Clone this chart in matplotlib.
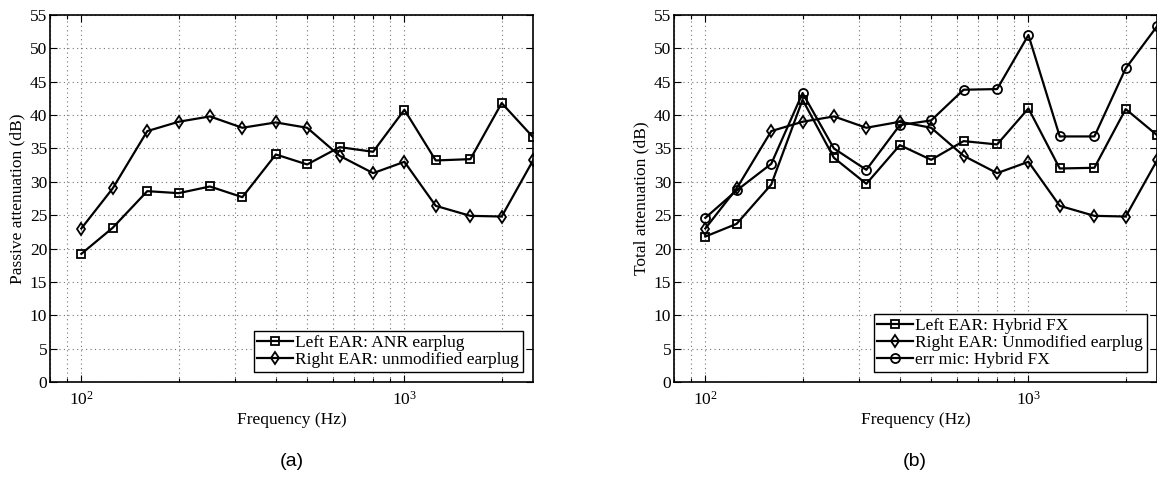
import matplotlib
matplotlib.use("Agg")
import matplotlib.pyplot as plt
from matplotlib.ticker import LogLocator, NullFormatter

# third-octave band centres (Hz)
freq = [100, 125, 160, 200, 250, 315, 400, 500, 630, 800,
        1000, 1250, 1600, 2000, 2500]

# (a) passive attenuation (dB)
passive_left = [19.2, 23.1, 28.6, 28.3, 29.3, 27.7, 34.1, 32.6, 35.2, 34.5,
                40.8, 33.2, 33.4, 41.8, 36.7]
passive_right = [23.0, 29.0, 37.6, 39.0, 39.8, 38.1, 38.9, 38.1, 33.9, 31.3,
                 33.0, 26.4, 24.9, 24.8, 33.2]

# (b) total attenuation (dB)
total_left = [21.8, 23.7, 29.6, 42.3, 33.6, 29.7, 35.5, 33.3, 36.1, 35.6,
              41.0, 32.0, 32.1, 40.9, 37.0]
total_right = [23.0, 29.0, 37.6, 39.0, 39.8, 38.1, 39.0, 38.1, 33.9, 31.3,
               33.0, 26.4, 24.9, 24.8, 33.2]
total_errmic = [24.6, 28.7, 32.7, 43.3, 35.0, 31.8, 38.5, 39.2, 43.8, 43.9,
                52.0, 36.8, 36.8, 47.0, 53.3]

y_ticks = list(range(0, 56, 5))
x_ticks = [100, 1000]
x_ticklabels = [r"$10^{2}$", r"$10^{3}$"]

plt.rcParams["font.family"] = ["Liberation Serif", "DejaVu Serif"]
plt.rcParams["mathtext.default"] = "regular"

W, H = 1157, 492
fig = plt.figure(figsize=(W / 100, H / 100), dpi=100)
ax_a = fig.add_axes([50 / W, 110 / H, 483 / W, 367 / H])
ax_b = fig.add_axes([674 / W, 110 / H, 483 / W, 367 / H])

line_kw = dict(color="k", lw=1.6, mfc="none", mec="k", mew=1.3)
fs = 12.5


def style_axes(ax, ylabel):
    ax.set_xscale("log")
    ax.set_xlim(80, 2500)
    ax.set_ylim(0, 55)
    ax.set_yticks(y_ticks)
    ax.set_xticks(x_ticks)
    ax.set_xticklabels(x_ticklabels)
    ax.xaxis.set_minor_locator(LogLocator(base=10, subs=range(2, 10)))
    ax.xaxis.set_minor_formatter(NullFormatter())
    ax.grid(True, which="major", ls=(0, (1, 3)), color="0.45", lw=0.8)
    ax.grid(True, which="minor", axis="x", ls=(0, (1, 3)), color="0.45",
            lw=0.8)
    ax.set_axisbelow(True)
    ax.tick_params(which="both", direction="in", top=True, right=True,
                   labelsize=fs, width=0.8)
    ax.tick_params(which="major", length=5)
    ax.tick_params(which="minor", length=3)
    ax.tick_params(axis="x", which="major", pad=6)
    ax.tick_params(axis="y", which="major", pad=2)
    for sp in ax.spines.values():
        sp.set_linewidth(1.2)
    ax.set_xlabel("Frequency (Hz)", fontsize=fs, labelpad=3)
    ax.set_ylabel(ylabel, fontsize=fs, labelpad=3)
    ax.legend(loc="lower right", fontsize=fs, fancybox=False,
              edgecolor="k", framealpha=1, borderpad=0.2,
              labelspacing=0.05, handlelength=2.1, handletextpad=0.1,
              borderaxespad=0.6).get_frame().set_linewidth(1.0)


ax_a.plot(freq, passive_left, marker="s", ms=5.5,
          label="Left EAR: ANR earplug", **line_kw)
ax_a.plot(freq, passive_right, marker="d", ms=6.5,
          label="Right EAR: unmodified earplug", **line_kw)
style_axes(ax_a, "Passive attenuation (dB)")

ax_b.plot(freq, total_left, marker="s", ms=5.5,
          label="Left EAR: Hybrid FX", **line_kw)
ax_b.plot(freq, total_right, marker="d", ms=6.5,
          label="Right EAR: Unmodified earplug", **line_kw)
ax_b.plot(freq, total_errmic, marker="o", ms=6.5,
          label="err mic: Hybrid FX", **line_kw)
style_axes(ax_b, "Total attenuation (dB)")

fig.text(292 / W, 1 - 462 / H, "(a)", family="Liberation Sans",
         fontsize=14, ha="center", va="center")
fig.text(915 / W, 1 - 462 / H, "(b)", family="Liberation Sans",
         fontsize=14, ha="center", va="center")

fig.savefig("out.png", dpi=100)
